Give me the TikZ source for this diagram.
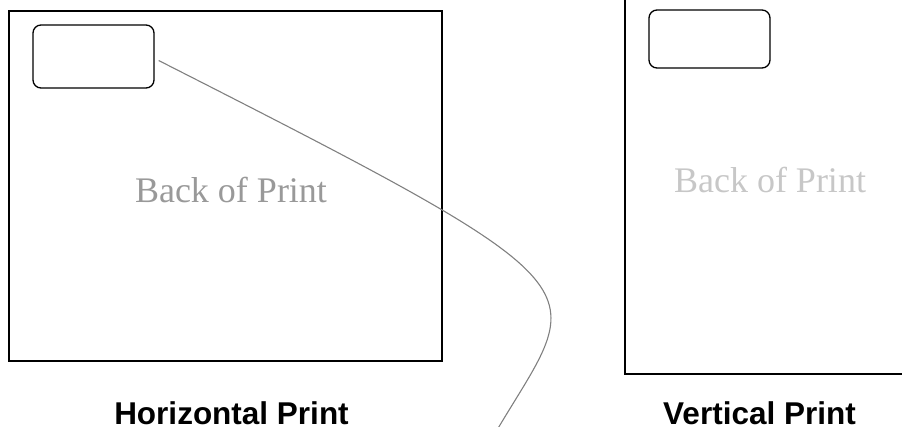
\documentclass[tikz,border=0pt]{standalone}
\usepackage{fontspec}
\setmainfont{Liberation Serif}
\newfontfamily\labelfont{Liberation Sans}

\begin{document}
\begin{tikzpicture}[x=1pt,y=-1pt,
        sheet/.style={draw,line width=1.3pt,inner sep=0pt},
        tag/.style={draw,line width=1.3pt,rounded corners=8pt,inner sep=0pt,minimum width=121pt},
        backtext/.style={font=\fontsize{36}{40}\selectfont},
        caption/.style={font=\labelfont\bfseries\fontsize{31.5}{34}\selectfont,anchor=base,inner sep=0pt,text depth=0pt}]
        % Fix the page size
        \useasboundingbox (0,0) rectangle (902,427);
        \clip (0,0) rectangle (902,427);

        % Horizontal print with its tag
        \node[sheet,minimum width=433pt,minimum height=350pt] (hprint) at (225.5,186) {};
        \node[tag,minimum height=63pt] (htag) at (93.5,56.5) {};
        \node[backtext,text=black!40] (hback) at (231,190) {Back of Print};
        \node[caption] (hlabel) at (231.5,424) {Horizontal Print};

        % Vertical print with its tag
        \node[sheet,minimum width=295pt,minimum height=384pt] (vprint) at (772.5,182) {};
        \node[tag,minimum height=58pt] (vtag) at (709.5,39) {};
        \node[backtext,text=black!22] (vback) at (770,180) {Back of Print};
        \node[caption] (vlabel) at (759.5,424) {Vertical Print};

        % Curve leaving the tag
        \coordinate (curveend) at (497,430);
        \draw[black!50,line width=1.1pt] ([shift={(4,4)}]htag.east)
            .. controls (620,295) and (585,282) .. (curveend);
\end{tikzpicture}
\end{document}
